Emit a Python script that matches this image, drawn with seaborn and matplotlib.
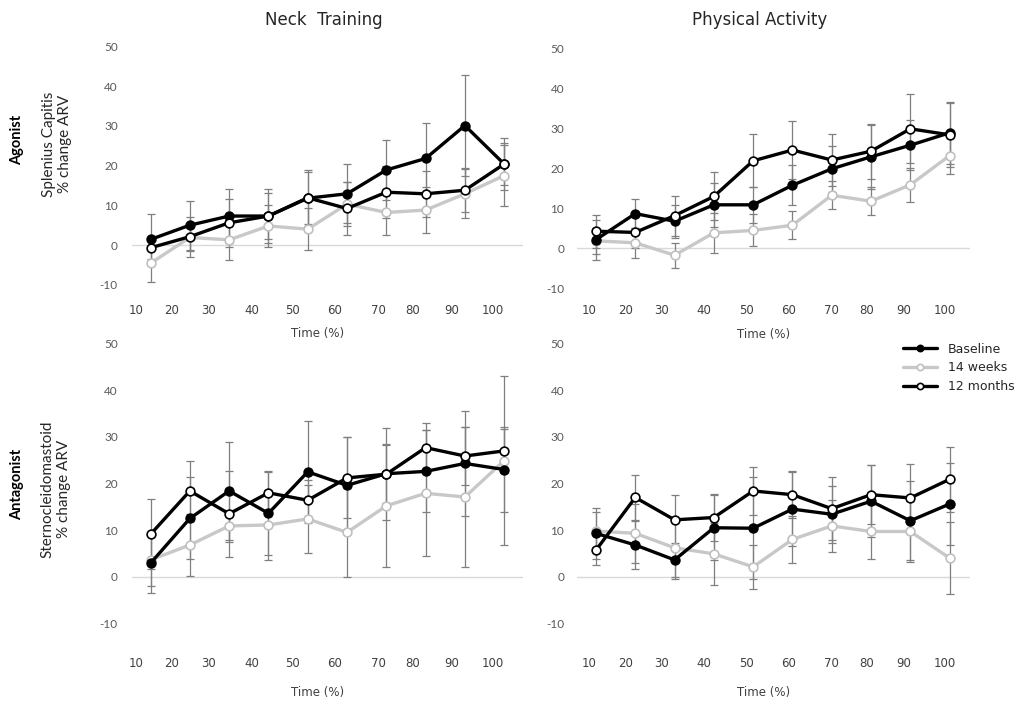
"""
Neck muscle activity (% change ARV) over time - Neck Training vs Physical Activity
"""
import numpy as np
import pandas as pd
import matplotlib
matplotlib.use('Agg')
import matplotlib.pyplot as plt
from matplotlib.lines import Line2D
import seaborn as sns

# Dados
TIME_LABELS = ['10', '20', '30', '40', '50', '60', '70', '80', '90', '100']
GROUPS = ['Baseline', '14 weeks', '12 months']

# Neck Training - Agonist (Splenius Capitis)
nt_ago_base = [1.4, 5.0, 7.3, 7.3, 11.8, 12.9, 18.9, 21.8, 30.1, 20.4]
nt_ago_base_sd = [6.3, 6.2, 6.9, 6.9, 7.1, 7.4, 7.6, 9.0, 12.7, 5.4]
nt_ago_14w = [-4.6, 1.9, 1.3, 4.8, 4.0, 10.3, 8.2, 8.8, 12.9, 17.5]
nt_ago_14w_sd = [4.6, 3.5, 5.1, 5.3, 5.3, 5.5, 5.7, 5.7, 6.2, 7.7]
nt_ago_12m = [-0.7, 2.1, 5.6, 7.3, 11.9, 9.2, 13.3, 12.9, 13.8, 20.4]
nt_ago_12m_sd = [2.8, 5.0, 6.0, 5.9, 6.6, 6.8, 6.5, 5.8, 5.5, 6.5]

# Physical Activity - Agonist
pa_ago_base = [2.1, 8.6, 6.7, 10.8, 10.8, 15.7, 19.8, 22.8, 25.7, 28.8]
pa_ago_base_sd = [5.0, 3.7, 4.1, 5.5, 4.5, 5.0, 5.8, 8.0, 6.2, 7.7]
pa_ago_14w = [1.8, 1.3, -1.8, 3.8, 4.4, 5.7, 13.2, 11.7, 15.8, 23.1]
pa_ago_14w_sd = [3.2, 3.8, 3.1, 5.0, 4.0, 3.5, 3.5, 3.5, 4.3, 4.7]
pa_ago_12m = [4.2, 3.9, 8.1, 12.9, 21.8, 24.5, 22.0, 24.2, 29.8, 28.3]
pa_ago_12m_sd = [4.1, 4.0, 5.0, 6.0, 6.6, 7.2, 6.6, 6.9, 8.6, 8.0]

# Neck Training - Antagonist (Sternocleidomastoid)
nt_ant_base = [2.9, 12.5, 18.4, 13.6, 22.5, 19.6, 22.1, 22.6, 24.3, 23.0]
nt_ant_base_sd = [6.5, 8.8, 10.5, 9.0, 10.9, 10.3, 6.3, 8.8, 11.3, 9.1]
nt_ant_14w = [3.6, 6.8, 10.9, 11.1, 12.4, 9.5, 15.2, 17.9, 17.1, 24.9]
nt_ant_14w_sd = [5.7, 6.7, 3.5, 7.5, 7.3, 9.6, 13.1, 13.5, 15.0, 18.2]
nt_ant_12m = [9.1, 18.4, 13.5, 18.0, 16.4, 21.2, 22.0, 27.7, 25.9, 27.0]
nt_ant_12m_sd = [7.5, 6.4, 9.2, 4.5, 4.3, 8.7, 9.9, 5.2, 6.2, 4.8]

# Physical Activity - Antagonist
pa_ant_base = [9.3, 6.8, 3.6, 10.5, 10.4, 14.5, 13.4, 16.2, 12.0, 15.6]
pa_ant_base_sd = [5.5, 5.2, 3.6, 7.0, 11.0, 8.0, 6.1, 7.7, 8.5, 8.7]
pa_ant_14w = [9.8, 9.3, 6.2, 4.9, 2.1, 8.0, 10.9, 9.7, 9.7, 4.0]
pa_ant_14w_sd = [4.0, 6.4, 6.6, 6.7, 4.7, 5.1, 5.5, 6.0, 6.5, 7.8]
pa_ant_12m = [5.7, 17.0, 12.2, 12.7, 18.4, 17.6, 14.6, 17.6, 16.9, 20.9]
pa_ant_12m_sd = [3.2, 4.9, 5.3, 5.0, 5.2, 5.1, 6.8, 6.3, 7.2, 7.0]

# Estilo
sns.set_style('white')
TICK_FONT = ['DejaVu Sans']
LABEL_FONT = ['Lato', 'DejaVu Sans']
plt.rcParams['font.family'] = TICK_FONT

STYLE = {
    'Baseline': dict(color='black', mfc='black', mec='black'),
    '14 weeks': dict(color='#c8c8c8', mfc='white', mec='#c0c0c0'),
    '12 months': dict(color='black', mfc='white', mec='black'),
}
DRAW_ORDER = ['14 weeks', 'Baseline', '12 months']

# posicoes dos rotulos do eixo x (como no original, levemente deslocados)
LEFT_TICK_POS = [-0.36, 0.53, 1.47, 2.58, 3.62, 4.69, 5.79, 6.68, 7.66, 8.72]
RIGHT_TICK_POS = [-0.18, 0.75, 1.67, 2.75, 3.82, 4.89, 5.99, 6.90, 7.82, 8.88]


def make_df(base, base_sd, w14, w14_sd, m12, m12_sd):
    rows = []
    for grp, vals, sds in [('Baseline', base, base_sd), ('14 weeks', w14, w14_sd),
                           ('12 months', m12, m12_sd)]:
        for i, (v, s) in enumerate(zip(vals, sds)):
            rows.append({'pos': i, 'time': TIME_LABELS[i], 'group': grp, 'value': v, 'sd': s})
    return pd.DataFrame(rows)


def draw_panel(ax, df, ylim, xlim, tick_pos, ypad):
    ax.patch.set_alpha(0)
    ax.axhline(0, color='#d9d9d9', lw=1.0, zorder=0)
    for grp in DRAW_ORDER:
        d = df[df['group'] == grp]
        ax.errorbar(d['pos'], d['value'], yerr=d['sd'], fmt='none', ecolor='#7f7f7f',
                    elinewidth=0.9, capsize=3, capthick=0.9, zorder=1)
    for z, grp in enumerate(DRAW_ORDER):
        d = df[df['group'] == grp]
        st = STYLE[grp]
        sns.lineplot(data=d, x='pos', y='value', ax=ax, color=st['color'], lw=2.4,
                     marker='o', markersize=6.3, markerfacecolor=st['mfc'],
                     markeredgecolor=st['mec'], markeredgewidth=1.2,
                     errorbar=None, legend=False, zorder=3 + z)
    ax.set_xlim(*xlim)
    ax.set_ylim(*ylim)
    ax.set_yticks(range(-10, 51, 10))
    ax.set_yticklabels([str(v) for v in range(-10, 51, 10)], family=LABEL_FONT,
                       fontsize=8.5, color='#595959')
    ax.set_xticks(tick_pos)
    ax.set_xticklabels(TIME_LABELS, fontsize=8.5, color='#404040')
    ax.tick_params(axis='both', length=0)
    ax.tick_params(axis='x', pad=1)
    ax.tick_params(axis='y', pad=ypad)
    ax.set_ylabel('')
    ax.set_xlabel('Time (%)', fontsize=8.5, color='#404040')
    ax.xaxis.set_label_coords(0.475, -0.095)
    sns.despine(ax=ax, left=True, bottom=True)


fig = plt.figure(figsize=(10.17, 7.07), dpi=100)

ax_tl = fig.add_axes([0.1295, 0.5726, 0.3848, 0.3728])
ax_tr = fig.add_axes([0.5671, 0.5714, 0.3867, 0.3720])
ax_bl = fig.add_axes([0.1295, 0.0723, 0.3848, 0.4547])
ax_br = fig.add_axes([0.5671, 0.0723, 0.3867, 0.4547])

draw_panel(ax_tl, make_df(nt_ago_base, nt_ago_base_sd, nt_ago_14w, nt_ago_14w_sd,
                          nt_ago_12m, nt_ago_12m_sd),
           (-14.4, 52), (-0.48, 9.48), LEFT_TICK_POS, 10)
draw_panel(ax_tr, make_df(pa_ago_base, pa_ago_base_sd, pa_ago_14w, pa_ago_14w_sd,
                          pa_ago_12m, pa_ago_12m_sd),
           (-13.75, 52), (-0.49, 9.52), RIGHT_TICK_POS, 9)
draw_panel(ax_bl, make_df(nt_ant_base, nt_ant_base_sd, nt_ant_14w, nt_ant_14w_sd,
                          nt_ant_12m, nt_ant_12m_sd),
           (-17, 52), (-0.48, 9.48), LEFT_TICK_POS, 10)
draw_panel(ax_br, make_df(pa_ant_base, pa_ant_base_sd, pa_ant_14w, pa_ant_14w_sd,
                          pa_ant_12m, pa_ant_12m_sd),
           (-17, 52), (-0.49, 9.52), RIGHT_TICK_POS, 9)

# Titulos das colunas
fig.text(0.3186, 0.9717, 'Neck  Training', ha='center', va='center', fontsize=12, color='#262626')
fig.text(0.7468, 0.9717, 'Physical Activity', ha='center', va='center', fontsize=12, color='#262626')

# Rotulos das linhas
fig.text(0.0172, 0.802, 'Agonist', rotation=90, ha='center', va='center',
         fontsize=10.5, fontweight='bold', family=LABEL_FONT, color='black')
fig.text(0.056, 0.796, 'Splenius Capitis\n% change ARV', rotation=90, ha='center', va='center',
         fontsize=11, family=LABEL_FONT, color='#262626', multialignment='center')
fig.text(0.0167, 0.3154, 'Antagonist', rotation=90, ha='center', va='center',
         fontsize=10.5, fontweight='bold', family=LABEL_FONT, color='black')
fig.text(0.055, 0.3083, 'Sternocleidomastoid\n% change ARV', rotation=90, ha='center', va='center',
         fontsize=11, family=LABEL_FONT, color='#262626', multialignment='center')

# Legenda
handles = [Line2D([], [], color=STYLE[g]['color'], lw=2.4, marker='o', markersize=4.5,
                  markerfacecolor=STYLE[g]['mfc'], markeredgecolor=STYLE[g]['mec'],
                  markeredgewidth=1.2) for g in GROUPS]
fig.legend(handles, GROUPS, loc='center left', bbox_to_anchor=(0.888, 0.4795),
           frameon=False, fontsize=9, handlelength=2.7, handletextpad=0.9,
           labelspacing=0.45, borderpad=0, borderaxespad=0, labelcolor='#262626')

fig.savefig('out.png', dpi=100)
